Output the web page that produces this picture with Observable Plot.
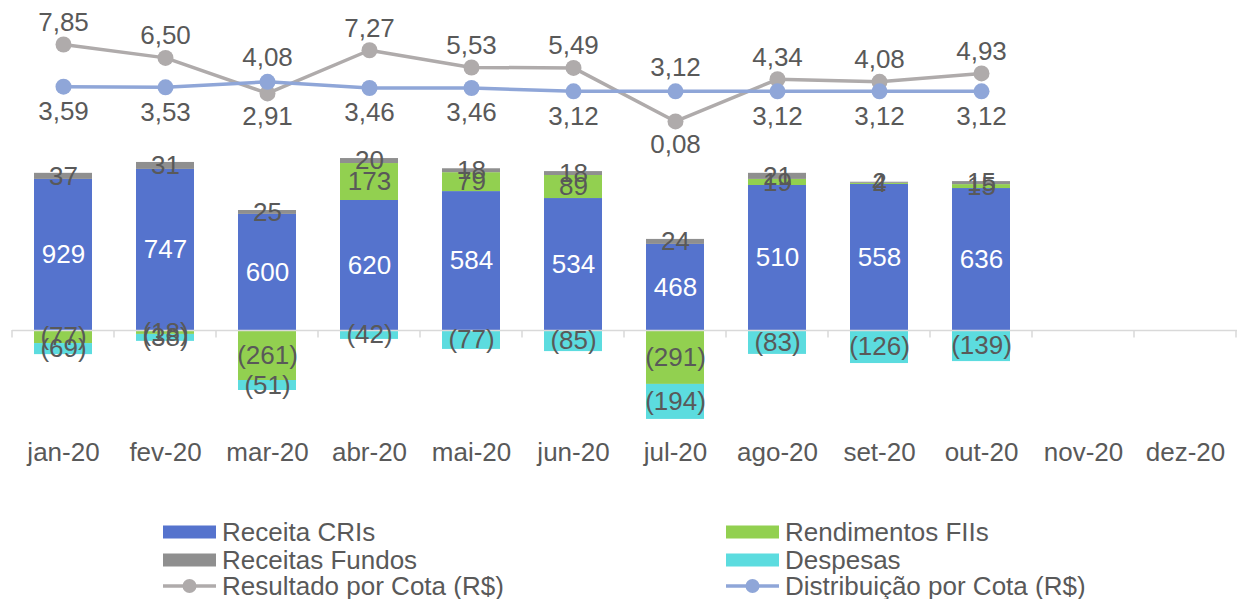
<!DOCTYPE html>
<html>
<head>
<meta charset="utf-8">
<script src="https://cdn.jsdelivr.net/npm/d3@7"></script>
<script src="https://cdn.jsdelivr.net/npm/@observablehq/plot@0.6"></script>
<style>
  html, body { margin: 0; padding: 0; background: #fff; overflow: hidden; }
  #chart { width: 1237px; }
  #legend { position: relative; width: 1237px; height: 119px; font-family: "Liberation Sans", Arial, sans-serif; font-size: 26px; color: #595959; }
  .item { position: absolute; display: flex; align-items: center; height: 28px; white-space: nowrap; }
  .item svg { margin-right: 6px; flex: none; }
</style>
</head>
<body>
<div id="chart"></div>
<div id="legend"></div>
<script>
// Categorias
const meses = ["jan-20","fev-20","mar-20","abr-20","mai-20","jun-20","jul-20","ago-20","set-20","out-20","nov-20","dez-20"];

// Rótulos exibidos nas barras (R$ mil)
const receitaCRIs     = [929, 747, 600, 620, 584, 534, 468, 510, 558, 636];
const rendimentosFIIs = [-77, -18, -261, 173, 79, 89, -291, 19, 4, 15];
const receitasFundos  = [37, 31, 25, 20, 18, 18, 24, 21, 2, 15];
const despesas        = [-69, -38, -51, -42, -77, -85, -194, -83, -126, -139];

// Alturas das barras tal como desenhadas no gráfico original
const alturaCRIs    = [695, 741, 534, 598, 639, 607, 396, 667, 672, 653];
const alturaFIIs    = [-60, -18, -230, 170, 87, 106, -248, 28, 5, 18];
const alturaFundos  = [28, 32, 18, 23, 18, 18, 23, 28, 5, 14];
const alturaDespesas= [-51, -32, -46, -41, -87, -97, -161, -110, -152, -143];

// Linhas (eixo secundário, R$)
const resultadoPorCota    = [7.85, 6.50, 2.91, 7.27, 5.53, 5.49, 0.08, 4.34, 4.08, 4.93];
const distribuicaoPorCota = [3.59, 3.53, 4.08, 3.46, 3.46, 3.12, 3.12, 3.12, 3.12, 3.12];

const cores = {
  "Receita CRIs": "#5573CD",
  "Rendimentos FIIs": "#92D050",
  "Receitas Fundos": "#8F8F8F",
  "Despesas": "#5CDCDF",
  "Resultado por Cota (R$)": "#AFABAB",
  "Distribuição por Cota (R$)": "#8FA6D8"
};
const textoCor = "#595959";

const rows = [];
receitaCRIs.forEach((_, i) => {
  rows.push({mes: meses[i], serie: "Receita CRIs", h: alturaCRIs[i], rot: receitaCRIs[i]});
  rows.push({mes: meses[i], serie: "Rendimentos FIIs", h: alturaFIIs[i], rot: rendimentosFIIs[i]});
  rows.push({mes: meses[i], serie: "Receitas Fundos", h: alturaFundos[i], rot: receitasFundos[i]});
  rows.push({mes: meses[i], serie: "Despesas", h: alturaDespesas[i], rot: despesas[i]});
});

const linhas = resultadoPorCota.map((v, i) => ({
  mes: meses[i], res: v, dist: distribuicaoPorCota[i], resAcima: v >= distribuicaoPorCota[i]
}));

// eixo secundário mapeado para o eixo principal
const sec = d3.scaleLinear().domain([0, 10]).range([958, 1413.5]);

const fmtBar = v => v < 0 ? `(${Math.abs(v)})` : `${v}`;
const fmtLin = v => v.toFixed(2).replace(".", ",");

function divisorias(...args) {
  const scales = args.find(a => a && typeof a.x === "function" && typeof a.y === "function");
  const dims = args.find(a => a && a.marginLeft !== undefined && a.width !== undefined);
  const x = scales.x, y = scales.y;
  let step, bw;
  if (typeof x.step === "function") { step = x.step(); bw = x.bandwidth(); }
  else { step = (dims.width - dims.marginLeft - dims.marginRight) / meses.length; bw = step * 0.57; }
  const y0 = y(0);
  const xs = meses.map(m => x(m) - (step - bw) / 2);
  xs.push(x(meses[meses.length - 1]) + bw + (step - bw) / 2);
  const g = d3.create("svg:g").attr("stroke", "#D9D9D9").attr("stroke-width", 1.5);
  xs.forEach(v => g.append("line").attr("x1", v).attr("x2", v).attr("y1", y0).attr("y2", y0 + 7.5));
  return g.node();
}

const font = "'Liberation Sans', Arial, sans-serif";

const chart = Plot.plot({
  width: 1237,
  height: 480,
  marginLeft: 12,
  marginRight: 0,
  marginTop: 0,
  marginBottom: 50,
  style: {fontFamily: font, fontSize: "26px", color: textoCor, background: "white", overflow: "visible"},
  x: {domain: meses, paddingInner: 0.43, paddingOuter: 0.215, label: null},
  y: {domain: [-460, 1518], axis: null},
  color: {type: "identity"},
  marks: [
    Plot.barY(rows, {x: "mes", y: "h", fill: d => cores[d.serie]}),
    Plot.ruleY([0], {stroke: "#D9D9D9", strokeWidth: 1.5}),
    divisorias,
    Plot.text(rows, Plot.stackY({
      x: "mes", y: "h", text: d => fmtBar(d.rot),
      fill: d => d.serie === "Receita CRIs" ? "white" : textoCor,
      fontSize: 26
    })),
    Plot.axisX({tickSize: 0, tickPadding: 12, fontSize: 26, fill: textoCor}),
    // Resultado por Cota
    Plot.line(linhas, {x: "mes", y: d => sec(d.res), stroke: cores["Resultado por Cota (R$)"], strokeWidth: 3.5}),
    Plot.dot(linhas, {x: "mes", y: d => sec(d.res), r: 8, fill: cores["Resultado por Cota (R$)"], stroke: "none"}),
    // Distribuição por Cota
    Plot.line(linhas, {x: "mes", y: d => sec(d.dist), stroke: cores["Distribuição por Cota (R$)"], strokeWidth: 3.5}),
    Plot.dot(linhas, {x: "mes", y: d => sec(d.dist), r: 8, fill: cores["Distribuição por Cota (R$)"], stroke: "none"}),
    // rótulos das linhas
    Plot.text(linhas.filter(d => d.resAcima), {x: "mes", y: d => sec(d.res), text: d => fmtLin(d.res), dy: -22, fill: textoCor, fontSize: 26}),
    Plot.text(linhas.filter(d => !d.resAcima), {x: "mes", y: d => sec(d.res), text: d => fmtLin(d.res), dy: 23, fill: textoCor, fontSize: 26}),
    Plot.text(linhas.filter(d => d.resAcima), {x: "mes", y: d => sec(d.dist), text: d => fmtLin(d.dist), dy: 25, fill: textoCor, fontSize: 26}),
    Plot.text(linhas.filter(d => !d.resAcima), {x: "mes", y: d => sec(d.dist), text: d => fmtLin(d.dist), dy: -24, fill: textoCor, fontSize: 26})
  ]
});
document.getElementById("chart").appendChild(chart);

// Legenda
const legenda = [
  {nome: "Receita CRIs", tipo: "rect", col: 0, row: 0},
  {nome: "Rendimentos FIIs", tipo: "rect", col: 1, row: 0},
  {nome: "Receitas Fundos", tipo: "rect", col: 0, row: 1},
  {nome: "Despesas", tipo: "rect", col: 1, row: 1},
  {nome: "Resultado por Cota (R$)", tipo: "line", col: 0, row: 2},
  {nome: "Distribuição por Cota (R$)", tipo: "line", col: 1, row: 2}
];
const colLeft = [163, 726];
const rowTop = [38, 66, 92];
const leg = d3.select("#legend");
legenda.forEach(it => {
  const div = leg.append("div").attr("class", "item")
    .style("left", colLeft[it.col] + "px").style("top", rowTop[it.row] + "px");
  const s = div.append("svg").attr("width", 53).attr("height", 18);
  if (it.tipo === "rect") {
    s.append("rect").attr("x", 0).attr("y", 2.5).attr("width", 53).attr("height", 13).attr("fill", cores[it.nome]);
  } else {
    s.append("line").attr("x1", 0).attr("x2", 53).attr("y1", 9).attr("y2", 9).attr("stroke", cores[it.nome]).attr("stroke-width", 3.5);
    s.append("circle").attr("cx", 26.5).attr("cy", 9).attr("r", 7).attr("fill", cores[it.nome]);
  }
  div.append("span").text(it.nome);
});
</script>
</body>
</html>
